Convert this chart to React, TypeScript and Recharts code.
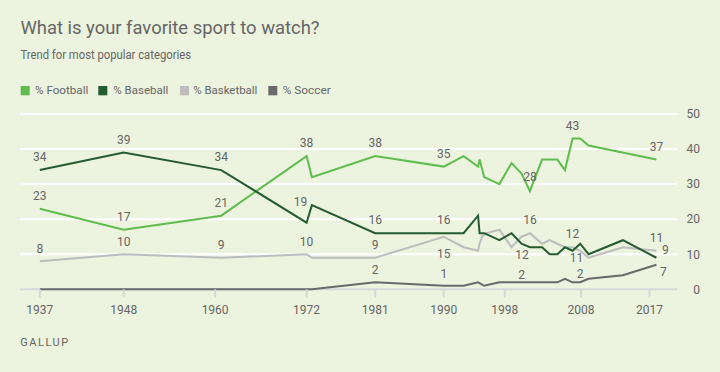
import React from "react";
import { LineChart, Line, XAxis, YAxis, CartesianGrid } from "recharts";

// survey dates
const footballYears = [1937, 1948, 1960.8, 1972, 1972.7, 1981, 1990, 1992.6, 1994.5, 1994.7, 1995.3, 1997.3, 1998.9, 2000.2, 2001.3, 2002.9, 2004.9, 2005.9, 2006.9, 2007.9, 2009, 2017.9];
const footballValues = [23, 17, 21, 38, 32, 38, 35, 38, 35, 37, 32, 30, 36, 33, 28, 37, 37, 34, 43, 43, 41, 37];

const baseballYears = [1937, 1948, 1960.8, 1972, 1972.7, 1981, 1990, 1992.6, 1994.5, 1994.7, 1995.3, 1997.3, 1998.9, 2000.2, 2001.3, 2002.9, 2003.9, 2004.9, 2005.9, 2006.9, 2007.9, 2009, 2013.5, 2017.9];
const baseballValues = [34, 39, 34, 19, 24, 16, 16, 16, 21, 16, 16, 14, 16, 13, 12, 12, 10, 10, 12, 11, 13, 10, 14, 9];

const basketballYears = [1937, 1948, 1960.8, 1972, 1972.7, 1981, 1990, 1992.6, 1994.5, 1994.7, 1995.0, 1995.6, 1997.3, 1998.9, 2000.2, 2001.3, 2002.9, 2003.9, 2004.9, 2005.9, 2006.9, 2007.9, 2009, 2013.5, 2017.9];
const basketballValues = [8, 10, 9, 10, 9, 9, 15, 12, 11, 13, 15, 16, 17, 12, 15, 16, 13, 14, 13, 12, 12, 11, 9, 12, 11];

const soccerYears = [1937, 1948, 1960.8, 1972, 1972.7, 1981, 1990, 1992.6, 1994.5, 1995.3, 1997.3, 1998.9, 2000.2, 2001.3, 2002.9, 2003.9, 2004.9, 2005.9, 2006.9, 2007.9, 2009, 2013.5, 2017.9];
const soccerValues = [0, 0, 0, 0, 0, 2, 1, 1, 2, 1, 2, 2, 2, 2, 2, 2, 2, 3, 2, 2, 3, 4, 7];

const xTicks = [1937, 1948, 1960, 1972, 1981, 1990, 1998, 2008, 2017];
const yTicks = [0, 10, 20, 30, 40, 50];

const seriesNames = ["% Football", "% Baseball", "% Basketball", "% Soccer"];

const BG = "#ecf3de";
const TXT = "#666666";
const AXIS = "#d8d8d8";
const FONT = "Roboto, 'Noto Sans', sans-serif";
const COLORS = ["#5ebd4c", "#245b30", "#bdbdbd", "#6a6a6a"];

// which points carry a value label, and where it sits relative to the point
const footballLabels: Record<string, [number, number]> = {
  "1937": [0, -13], "1948": [0, -13], "1960.8": [0, -13], "1972": [0, -13],
  "1981": [0, -13], "1990": [0, -13], "2001.3": [0, -14], "2006.9": [0, -13], "2017.9": [0, -13],
};
const baseballLabels: Record<string, [number, number]> = {
  "1937": [0, -13], "1948": [0, -13], "1960.8": [0, -13], "1972": [-6, -21],
  "1981": [0, -13], "1990": [0, -13], "2001.3": [-8, 8], "2006.9": [4, 7], "2017.9": [9, -8],
};
const basketballLabels: Record<string, [number, number]> = {
  "1937": [0, -13], "1948": [0, -13], "1960.8": [0, -13], "1972": [0, -13],
  "1981": [0, -13], "1990": [0, 17], "2001.3": [0, -13], "2006.9": [0, -13], "2017.9": [0, -13],
};
const soccerLabels: Record<string, [number, number]> = {
  "1981": [0, -13], "1990": [0, -12], "2000.2": [0, -8], "2007.9": [0, -9], "2017.9": [7, 7],
};

const toRows = (years: number[], values: number[]) =>
  years.map((year, i) => ({ year, v: values[i] }));

const makeLabel = (years: number[], spots: Record<string, [number, number]>) => (p: any) => {
  const s = spots[String(years[p.index])];
  if (!s || p.x == null || p.y == null) return null;
  return (
    <text
      key={"lb" + p.index}
      x={p.x + s[0]}
      y={p.y + s[1]}
      dy="0.355em"
      textAnchor="middle"
      fontSize={12}
      fontFamily={FONT}
      fill={TXT}
    >
      {p.value}
    </text>
  );
};

const RightTick = (p: any) => (
  <text x={700} y={p.y} dy="0.355em" textAnchor="end" fontSize={12} fontFamily={FONT} fill={TXT}>
    {p.payload.value}
  </text>
);

// white grid, but the baseline is drawn grey (under the series)
const GridLine = (p: any) => {
  const isBase = p.y != null && p.height != null && p.y1 >= p.y + p.height - 0.5;
  return (
    <line
      key={p.key}
      x1={p.x1}
      x2={p.x2}
      y1={p.y1}
      y2={p.y2}
      stroke={isBase ? AXIS : "#ffffff"}
      strokeWidth={2}
    />
  );
};

const legendSquareX = [20.7, 98.3, 180, 268.3];
const legendTextX = [35, 113.3, 193.3, 282.7];
const legendTextW = [53.3, 55, 64, 48];

export default function App() {
  return (
    <div
      style={{
        position: "absolute",
        left: 0,
        top: 0,
        width: 720,
        height: 372,
        background: BG,
        overflow: "hidden",
        fontFamily: FONT,
      }}
    >
      <LineChart
        width={720}
        height={372}
        margin={{ top: 114, right: 0, bottom: 42.7, left: 20 }}
      >
        <CartesianGrid horizontal={GridLine} vertical={false} />
        <XAxis
          type="number"
          dataKey="year"
          domain={[1934.4, 2020.6]}
          ticks={xTicks}
          interval={0}
          height={40}
          tickSize={8}
          tickMargin={8}
          axisLine={false}
          tickLine={{ stroke: AXIS, strokeWidth: 2 }}
          tick={{ fontSize: 12, fill: TXT, fontFamily: FONT }}
        />
        <YAxis
          orientation="right"
          type="number"
          domain={[0, 50]}
          ticks={yTicks}
          width={43}
          axisLine={false}
          tickLine={false}
          tick={RightTick}
        />
        <Line
          data={toRows(soccerYears, soccerValues)}
          dataKey="v"
          name={seriesNames[3]}
          stroke={COLORS[3]}
          strokeWidth={2}
          dot={false}
          type="linear"
          isAnimationActive={false}
          label={makeLabel(soccerYears, soccerLabels)}
        />
        <Line
          data={toRows(basketballYears, basketballValues)}
          dataKey="v"
          name={seriesNames[2]}
          stroke={COLORS[2]}
          strokeWidth={2}
          dot={false}
          type="linear"
          isAnimationActive={false}
          label={makeLabel(basketballYears, basketballLabels)}
        />
        <Line
          data={toRows(footballYears, footballValues)}
          dataKey="v"
          name={seriesNames[0]}
          stroke={COLORS[0]}
          strokeWidth={2}
          dot={false}
          type="linear"
          isAnimationActive={false}
          label={makeLabel(footballYears, footballLabels)}
        />
        <Line
          data={toRows(baseballYears, baseballValues)}
          dataKey="v"
          name={seriesNames[1]}
          stroke={COLORS[1]}
          strokeWidth={2}
          dot={false}
          type="linear"
          isAnimationActive={false}
          label={makeLabel(baseballYears, baseballLabels)}
        />
      </LineChart>

      <svg
        width={720}
        height={372}
        style={{ position: "absolute", left: 0, top: 0, pointerEvents: "none" }}
      >
        <text x={20.5} y={34} fontSize={19} fill={TXT} fontFamily={FONT} textLength={299} lengthAdjust="spacingAndGlyphs">
          What is your favorite sport to watch?
        </text>
        <text x={20.5} y={59} fontSize={12.5} fill={TXT} fontFamily={FONT} textLength={170.5} lengthAdjust="spacingAndGlyphs">
          Trend for most popular categories
        </text>
        {seriesNames.map((n, i) => (
          <g key={n}>
            <rect x={legendSquareX[i]} y={86} width={9} height={9.3} fill={COLORS[i]} />
            <text x={legendTextX[i]} y={94.3} fontSize={11.5} fill={TXT} fontFamily={FONT} textLength={legendTextW[i]} lengthAdjust="spacingAndGlyphs">
              {n}
            </text>
          </g>
        ))}
        <text x={20.2} y={346} fontSize={11} fill={TXT} fontFamily={FONT} textLength={48} lengthAdjust="spacing">
          GALLUP
        </text>
      </svg>
    </div>
  );
}
